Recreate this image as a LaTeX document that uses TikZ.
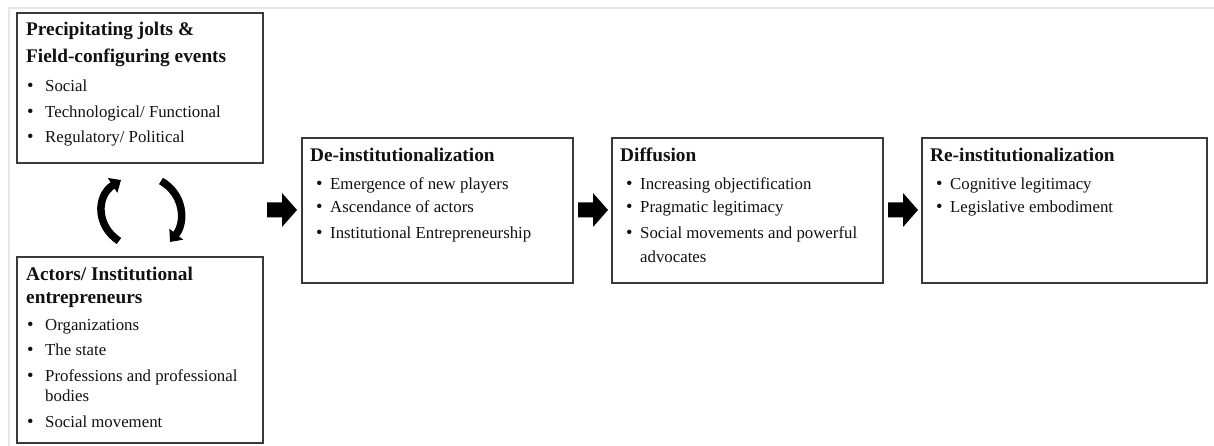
\documentclass[tikz,border=0pt]{standalone}
\usepackage{fontspec}
\setmainfont{Liberation Serif}
\usetikzlibrary{arrows.meta}
\definecolor{boxgray}{HTML}{3A3A3A}
\definecolor{txt}{HTML}{111111}
\definecolor{frame}{HTML}{E6E6E6}
\newcommand\hdline[4]{\node[hd] (#1) at (#2,#3) {#4};}
\newcommand\bitem[5]{\node[bul] (#1b) at (#2,#3) {•}; \node[body] (#1) at (#4,#3) {#5};}
\begin{document}
\begin{tikzpicture}[x=1pt,y=-1pt,
  box/.style={draw=boxgray, line width=1.4pt, rectangle, anchor=north west, inner sep=0pt, outer sep=0pt, fill=white},
  hd/.style={anchor=base west, inner sep=0pt, text=txt, font=\fontsize{19.3}{22}\selectfont\bfseries},
  body/.style={anchor=base west, inner sep=0pt, text=txt, font=\fontsize{16.8}{20}\selectfont},
  bul/.style={anchor=base west, inner sep=0pt, text=txt, font=\fontsize{18.5}{20}\selectfont},
  barrow/.pic={\fill[black] (0,-7.5) -- (15,-7.5) -- (15,-17) -- (30,0) -- (15,17) -- (15,7.5) -- (0,7.5) -- cycle;},
  curvy/.style={draw=black, line width=7.5pt, -{Triangle[length=10pt,width=17pt]}}
]
\useasboundingbox (0,0) rectangle (1214,446);
\fill[white] (0,0) rectangle (1214,446);
% faint frame lines
\draw[frame, line width=2pt] (9,446) -- (9,8) -- (1214,8);

% boxes
\node[box, minimum width=246pt, minimum height=150pt] (jolts) at (17,13) {};
\node[box, minimum width=246pt, minimum height=186pt] (actors) at (17,257) {};
\node[box, minimum width=271pt, minimum height=145pt] (deinst) at (302,138) {};
\node[box, minimum width=271pt, minimum height=145pt] (diff) at (612,138) {};
\node[box, minimum width=285pt, minimum height=145pt] (reinst) at (922,138) {};

% box 1
\hdline{j1}{26}{36}{Precipitating jolts \&}
\hdline{j2}{26}{63}{Field-configuring events}
\bitem{j3}{27}{92}{45}{Social}
\bitem{j4}{27}{118}{45}{Technological/ Functional}
\bitem{j5}{27}{143}{45}{Regulatory/ Political}

% box 2
\hdline{a1}{26}{280}{Actors/ Institutional}
\hdline{a2}{26}{303}{entrepreneurs}
\bitem{a3}{27}{330}{45}{Organizations}
\bitem{a4}{27}{355}{45}{The state}
\bitem{a5}{27}{381}{45}{Professions and professional}
\node[body] (a6) at (45,401) {bodies};
\bitem{a7}{27}{427}{45}{Social movement}

% box 3
\hdline{d1}{310}{162}{De-institutionalization}
\bitem{d2}{316}{190}{330}{Emergence of new players}
\bitem{d3}{316}{213}{330}{Ascendance of actors}
\bitem{d4}{316}{238}{330}{Institutional Entrepreneurship}

% box 4
\hdline{f1}{620}{162}{Diffusion}
\bitem{f2}{626}{190}{640}{Increasing objectification}
\bitem{f3}{626}{213}{640}{Pragmatic legitimacy}
\bitem{f4}{626}{238}{640}{Social movements and powerful}
\node[body] (f5) at (640,262) {advocates};

% box 5
\hdline{r1}{930}{162}{Re-institutionalization}
\bitem{r2}{936}{190}{950}{Cognitive legitimacy}
\bitem{r3}{936}{213}{950}{Legislative embodiment}

% block arrows
\pic at (267,210) {barrow};
\pic at (578,210) {barrow};
\pic at (888,210) {barrow};

% curved arrows between jolts and actors
\coordinate (la) at (119,241);
\coordinate (lb) at (121,180);
\coordinate (ra) at (161,181);
\coordinate (rb) at (170,242);
\draw[curvy] (la) .. controls (96,226) and (96,196) .. (lb);
\draw[curvy] (ra) .. controls (184,194) and (186,222) .. (rb);
\end{tikzpicture}
\end{document}
